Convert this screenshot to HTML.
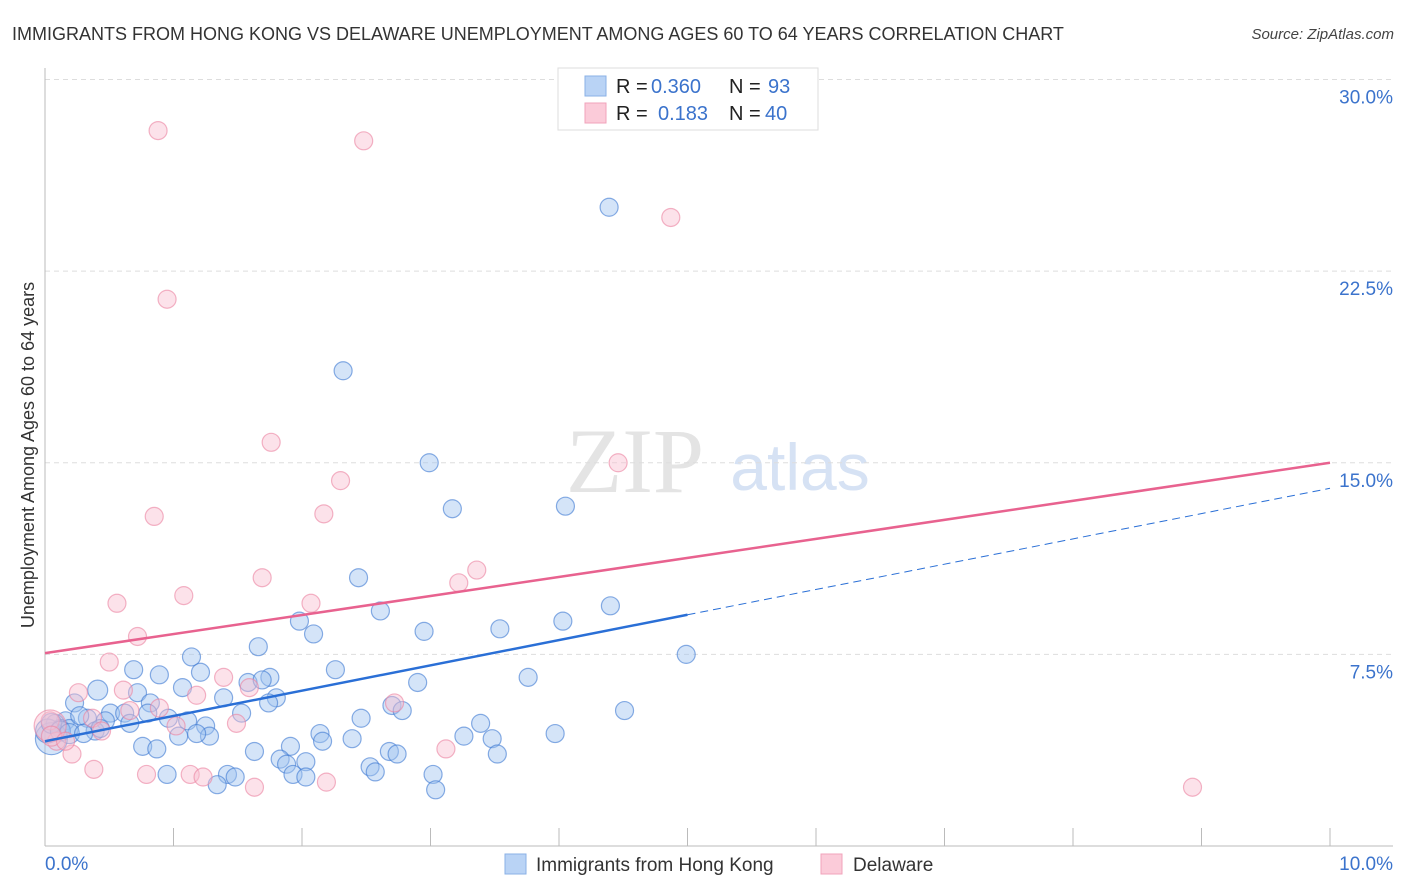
<!DOCTYPE html>
<html><head><meta charset="utf-8"><style>
body{margin:0;background:#fff;font-family:"Liberation Sans",sans-serif;}
svg{display:block}
</style></head><body>
<svg id="c" width="1406" height="892" xmlns="http://www.w3.org/2000/svg">
<text x="12" y="40" font-size="18" fill="#333">IMMIGRANTS FROM HONG KONG VS DELAWARE UNEMPLOYMENT AMONG AGES 60 TO 64 YEARS CORRELATION CHART</text>
<text x="1394" y="39" font-size="15" font-style="italic" fill="#444" text-anchor="end">Source: ZipAtlas.com</text>
<text x="635" y="492" font-size="92" font-family="Liberation Serif,serif" fill="#e4e4e4" text-anchor="middle">ZIP</text>
<text x="800" y="490" font-size="66" fill="#d6e2f4" text-anchor="middle">atlas</text>
<text transform="translate(34,455) rotate(-90)" font-size="18" fill="#333" text-anchor="middle">Unemployment Among Ages 60 to 64 years</text>
<g id="grid"></g><g id="pts"></g><g id="lines"></g>
<g>
<rect x="558" y="68" width="260" height="62" fill="#fff" stroke="#ddd"/>
<rect x="585" y="76" width="21" height="20" fill="#b9d3f5" stroke="#8ab0e6"/>
<rect x="585" y="103" width="21" height="20" fill="#fbcbd9" stroke="#f0a3bb"/>
<text y="93" font-size="20" fill="#222"><tspan x="616">R =</tspan><tspan x="651" fill="#3b73cc">0.360</tspan><tspan x="729">N =</tspan><tspan x="768" fill="#3b73cc">93</tspan></text>
<text y="120" font-size="20" fill="#222"><tspan x="616">R =</tspan><tspan x="658" fill="#3b73cc">0.183</tspan><tspan x="729">N =</tspan><tspan x="765" fill="#3b73cc">40</tspan></text>
</g>
<g>
<rect x="505" y="854" width="21" height="20" fill="#b9d3f5" stroke="#8ab0e6"/>
<text x="536" y="871" font-size="19" fill="#333">Immigrants from Hong Kong</text>
<rect x="821" y="854" width="21" height="20" fill="#fbcbd9" stroke="#f0a3bb"/>
<text x="853" y="871" font-size="19" fill="#333">Delaware</text>
</g>
</svg>
<script>
const yTicks=[7.5,15.0,22.5,30.0];
const xTickLabels=["0.0%","10.0%"];
const blueX=[4.39,2.32,2.99,3.17,4.05,2.44,2.61,4.40,1.98,2.09,2.95,3.54,4.03,4.99,1.66,1.14,0.69,0.89,1.21,2.26,1.58,1.75,1.69,0.41,0.72,1.07,1.39,1.80,1.74,2.90,3.76,0.82,0.23,0.51,0.62,0.80,1.53,2.70,2.78,4.51,2.46,3.39,0.96,1.11,1.25,0.33,0.47,0.66,0.16,0.08,0.12,0.19,0.39,0.43,1.04,1.28,1.18,2.14,2.16,2.39,3.26,3.48,3.97,0.76,0.87,1.63,1.91,2.68,2.74,3.52,1.83,1.88,2.03,2.53,2.57,0.95,1.42,1.48,1.93,2.03,3.02,1.34,3.04,0.05,0.02,0.05,0.12,0.19,0.27,0.30];
const blueY=[25.0,18.6,15.0,13.2,13.3,10.5,9.2,9.4,8.8,8.3,8.4,8.5,8.8,7.5,7.8,7.4,6.9,6.7,6.8,6.9,6.4,6.6,6.5,6.1,6.0,6.2,5.8,5.8,5.6,6.4,6.6,5.6,5.6,5.2,5.2,5.2,5.2,5.5,5.3,5.3,5.0,4.8,5.0,4.9,4.7,5.0,4.9,4.8,4.9,4.8,4.6,4.6,4.5,4.6,4.3,4.3,4.4,4.4,4.1,4.2,4.3,4.2,4.4,3.9,3.8,3.7,3.9,3.7,3.6,3.6,3.4,3.2,3.3,3.1,2.9,2.8,2.8,2.7,2.8,2.7,2.8,2.4,2.2,4.2,4.5,4.8,4.5,4.4,5.1,4.4];
const blueR=[9,9,9,9,9,9,9,9,9,9,9,9,9,9,9,9,9,9,9,9,9,9,9,10,9,9,9,9,9,9,9,9,9,9,9,9,9,9,9,9,9,9,9,9,9,9,9,9,9,9,9,9,9,9,9,9,9,9,9,9,9,9,9,9,9,9,9,9,9,9,9,9,9,9,9,9,9,9,9,9,9,9,9,16,12,10,10,10,9,9];
const pinkX=[0.88,2.48,4.87,0.95,1.76,2.30,4.46,2.17,0.85,3.36,1.69,3.22,0.56,1.08,2.07,0.72,0.50,0.26,0.61,1.18,1.39,1.59,1.49,2.72,0.37,0.44,0.04,0.09,0.21,0.38,0.79,1.13,1.23,1.63,2.19,3.12,8.93,0.66,0.04,0.05,0.16,0.89,1.02];
const pinkY=[28.0,27.6,24.6,21.4,15.8,14.3,15.0,13.0,12.9,10.8,10.5,10.3,9.5,9.8,9.5,8.2,7.2,6.0,6.1,5.9,6.6,6.2,4.8,5.6,5.0,4.5,4.9,4.1,3.6,3.0,2.8,2.8,2.7,2.3,2.5,3.8,2.3,5.3,4.7,4.3,4.1,5.4,4.7];
const pinkR=[9,9,9,9,9,9,9,9,9,9,9,9,9,9,9,9,9,9,9,9,9,9,9,9,9,9,9,9,9,9,9,9,9,9,9,9,9,9,16,10,9,9,9];
const blueLine=[4.1,14.0], pinkLine=[7.55,15.0], blueSolidEnd=5.0;
const X=v=>45+v*128.5, Y=v=>846-v*25.55;
const NS="http://www.w3.org/2000/svg";
function mk(tag,attrs,parent){const e=document.createElementNS(NS,tag);for(const k in attrs)e.setAttribute(k,attrs[k]);parent.appendChild(e);return e;}
const grid=document.getElementById('grid');
yTicks.forEach(t=>{
 const l=mk('line',{x1:45,x2:1393,y1:Y(t),y2:Y(t),stroke:'#ddd','stroke-dasharray':'5,4'},grid);
 
 
 const tx=mk('text',{x:1393,y:Y(t)+24,'font-size':19,fill:'#3b73cc','text-anchor':'end'},grid);
 tx.textContent=t.toFixed(1)+'%';
 
 
});
const ax=mk('line',{x1:45,x2:1393,y1:846,y2:846,stroke:'#bbb'},grid);


const ay=mk('line',{x1:45,x2:45,y1:68,y2:846,stroke:'#bbb'},grid);


for(let i=0;i<=10;i++){
 const tk=mk('line',{x1:X(i),x2:X(i),y1:828,y2:846,stroke:'#bbb'},grid);
 
 
}
[[0,'start',45],[10,'end',1393]].forEach((a,i)=>{
 const t=mk('text',{x:a[2],y:870,'font-size':19,fill:'#3b73cc','text-anchor':a[1]},grid);
 t.textContent=xTickLabels[i];
 
 
});
const pts=document.getElementById('pts');
blueX.forEach((v,i)=>{
 const c=mk('circle',{cx:X(v),cy:Y(blueY[i]),r:blueR[i],fill:'rgba(160,196,240,0.45)',stroke:'rgba(60,120,210,0.6)','stroke-width':1.2},pts);
 
 
});
pinkX.forEach((v,i)=>{
 const c=mk('circle',{cx:X(v),cy:Y(pinkY[i]),r:pinkR[i],fill:'rgba(248,190,208,0.45)',stroke:'rgba(235,130,160,0.6)','stroke-width':1.2},pts);
 
 
});
const lines=document.getElementById('lines');
const bAt=x=>blueLine[0]+(blueLine[1]-blueLine[0])*x/10;
const pl=mk('line',{x1:X(0),y1:Y(pinkLine[0]),x2:X(10),y2:Y(pinkLine[1]),stroke:'#e8628f','stroke-width':2.5},lines);


const bl=mk('line',{x1:X(0),y1:Y(bAt(0)),x2:X(blueSolidEnd),y2:Y(bAt(blueSolidEnd)),stroke:'#2a6fd6','stroke-width':2.5},lines);


const bd=mk('line',{x1:X(blueSolidEnd),y1:Y(bAt(blueSolidEnd)),x2:X(10),y2:Y(bAt(10)),stroke:'#2a6fd6','stroke-width':1,'stroke-dasharray':'8,5'},lines);


</script>
</body></html>
